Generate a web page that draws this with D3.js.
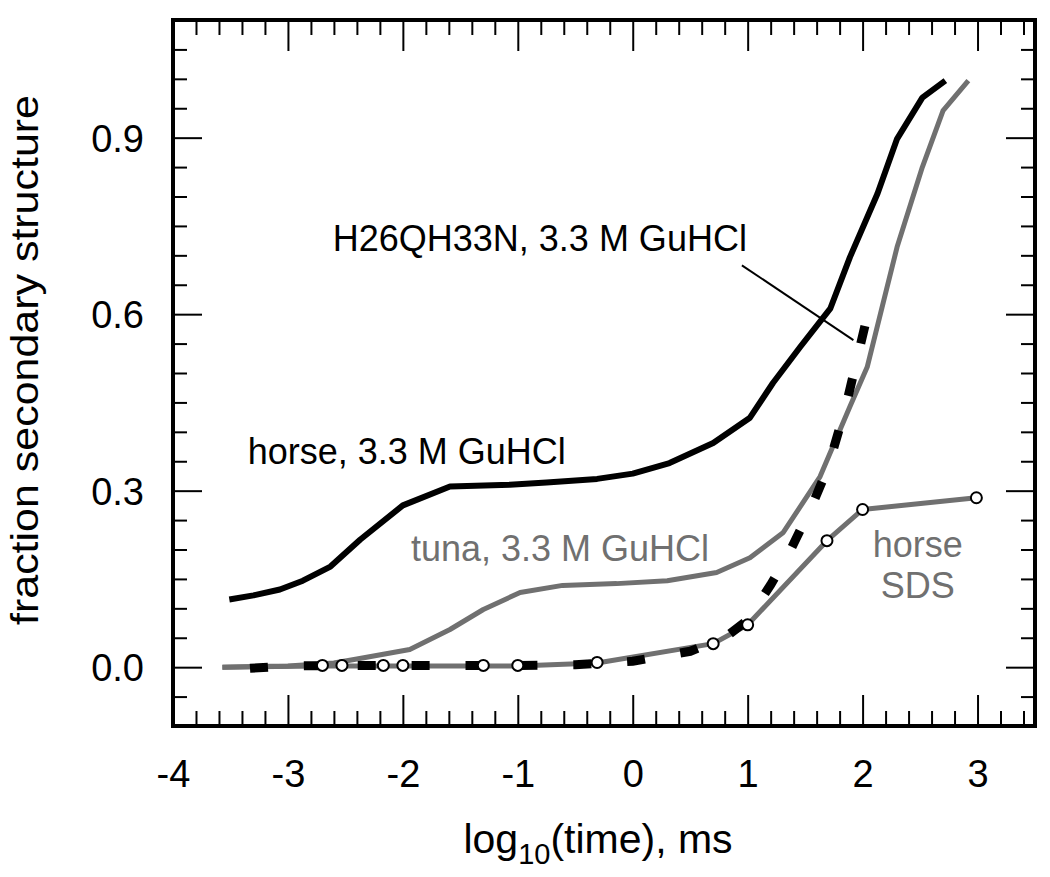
<!DOCTYPE html>
<html><head><meta charset="utf-8">
<script src="https://cdn.jsdelivr.net/npm/d3@7"></script>
<style>
body{margin:0;background:#fff}
svg{display:block}
text{font-family:"Liberation Sans",Arial,Helvetica,sans-serif}
</style>
</head><body>
<svg id="chart" width="1050" height="877"></svg>
<script>
// ---- data ----
const horseGuX = [-3.51,-3.30,-3.07,-2.87,-2.63,-2.37,-2.00,-1.59,-1.07,-0.75,-0.31,0.00,0.32,0.70,1.02,1.22,1.46,1.72,1.89,2.13,2.30,2.52,2.72];
const horseGuY = [0.115,0.122,0.132,0.147,0.171,0.217,0.275,0.307,0.310,0.314,0.320,0.329,0.347,0.381,0.424,0.483,0.545,0.610,0.697,0.805,0.898,0.968,0.997];

const tunaX = [-3.57,-3.0,-2.6,-2.4,-1.94,-1.59,-1.30,-0.98,-0.61,-0.14,0.30,0.73,1.02,1.31,1.63,1.89,2.04,2.18,2.30,2.52,2.70,2.92];
const tunaY = [0.000,0.002,0.007,0.014,0.030,0.064,0.098,0.127,0.139,0.142,0.147,0.161,0.186,0.229,0.324,0.443,0.510,0.620,0.714,0.850,0.946,0.997];

const sdsLineX = [-3.57,-2.70,-2.53,-2.17,-2.00,-1.30,-1.00,-0.31,0.70,1.00,1.69,2.00,2.99];
const sdsLineY = [0.000,0.002,0.002,0.002,0.002,0.002,0.002,0.007,0.040,0.072,0.215,0.268,0.288];
const sdsPointX = [-2.70,-2.53,-2.17,-2.00,-1.30,-1.00,-0.31,0.70,1.00,1.69,2.00,2.99];
const sdsPointY = [0.003,0.003,0.003,0.003,0.003,0.003,0.008,0.040,0.072,0.215,0.268,0.288];

const mutX = [-3.33,-3.0,-2.5,-2.0,-1.0,-0.5,0.0,0.5,0.8,1.0,1.2,1.35,1.55,1.70,1.85,2.02];
const mutY = [-0.002,0.002,0.003,0.003,0.003,0.004,0.010,0.027,0.050,0.080,0.140,0.190,0.270,0.340,0.440,0.580];

const xMajorTicks = [-4,-3,-2,-1,0,1,2,3];
const xTickLabels = ["-4","-3","-2","-1","0","1","2","3"];
const yMajorTicks = [0.0,0.3,0.6,0.9];
const yTickLabels = ["0.0","0.3","0.6","0.9"];
const xMinorTicks = d3.range(-38,35,2).map(v=>v/10).filter(v=>Math.abs(v-Math.round(v))>1e-6);
const yMinorTicks = d3.range(-1,22,1).map(v=>v*0.05).filter(v=>Math.abs(v/0.3-Math.round(v/0.3))>1e-6);

const annotFrom = [0.95,0.683];
const annotTo = [1.92,0.556];

// ---- layout ----
const svg = d3.select("#chart");
const L=173, R=1035, T=20, B=726;
const x = d3.scaleLinear().domain([-4,3.5]).range([L,R]);
const y = d3.scaleLinear().domain([-0.1,1.1]).range([B,T]);
const zip = (xs,ys)=>xs.map((v,i)=>[v,ys[i]]);
const line = d3.line().x(d=>x(d[0])).y(d=>y(d[1]));

const grey = "#707070";

// axes (ticks on all sides, pointing inward)
function styleAxis(g){ g.select(".domain").remove(); g.selectAll("line").attr("stroke","#000").attr("stroke-width",2); }
const fmtX = (d)=>xTickLabels[xMajorTicks.indexOf(d)];
const fmtY = (d)=>yTickLabels[yMajorTicks.indexOf(d)];

svg.append("g").attr("transform",`translate(0,${B})`)
  .call(d3.axisBottom(x).tickValues(xMajorTicks).tickSize(-31).tickPadding(0).tickFormat(fmtX))
  .call(styleAxis)
  .call(g=>g.selectAll("text").attr("y",61).attr("dy",0).attr("font-size",38).attr("fill","#000"));
svg.append("g").attr("transform",`translate(0,${B})`)
  .call(d3.axisBottom(x).tickValues(xMinorTicks).tickSize(-15).tickFormat(""))
  .call(styleAxis);
svg.append("g").attr("transform",`translate(0,${T})`)
  .call(d3.axisTop(x).tickValues(xMajorTicks).tickSize(-31).tickFormat(""))
  .call(styleAxis);
svg.append("g").attr("transform",`translate(0,${T})`)
  .call(d3.axisTop(x).tickValues(xMinorTicks).tickSize(-15).tickFormat(""))
  .call(styleAxis);
svg.append("g").attr("transform",`translate(${L},0)`)
  .call(d3.axisLeft(y).tickValues(yMajorTicks).tickSize(-29).tickPadding(0).tickFormat(fmtY))
  .call(styleAxis)
  .call(g=>g.selectAll("text").attr("x",-29).attr("dy","0.36em").attr("font-size",38).attr("fill","#000"));
svg.append("g").attr("transform",`translate(${L},0)`)
  .call(d3.axisLeft(y).tickValues(yMinorTicks).tickSize(-14).tickFormat(""))
  .call(styleAxis);
svg.append("g").attr("transform",`translate(${R},0)`)
  .call(d3.axisRight(y).tickValues(yMajorTicks).tickSize(-29).tickFormat(""))
  .call(styleAxis);
svg.append("g").attr("transform",`translate(${R},0)`)
  .call(d3.axisRight(y).tickValues(yMinorTicks).tickSize(-14).tickFormat(""))
  .call(styleAxis);

// series
svg.append("path").datum(zip(tunaX,tunaY)).attr("d",line)
  .attr("fill","none").attr("stroke",grey).attr("stroke-width",5).attr("stroke-linejoin","round");
svg.append("path").datum(zip(sdsLineX,sdsLineY)).attr("d",line)
  .attr("fill","none").attr("stroke",grey).attr("stroke-width",5).attr("stroke-linejoin","round");
svg.append("path").datum(zip(horseGuX,horseGuY)).attr("d",line)
  .attr("fill","none").attr("stroke","#000").attr("stroke-width",6).attr("stroke-linejoin","round");
const mutPath = svg.append("path").datum(zip(mutX,mutY)).attr("d",line)
  .attr("fill","none").attr("stroke","#000").attr("stroke-width",9);
// fit the dash period so the path starts and ends on a full dash
const dashLen = 18;
const mutLen = mutPath.node().getTotalLength();
const nPeriods = Math.round((mutLen - dashLen) / 55);
const period = (mutLen - dashLen) / nPeriods;
mutPath.attr("stroke-dasharray", `${dashLen} ${period - dashLen}`);
svg.append("g").selectAll("circle").data(zip(sdsPointX,sdsPointY)).join("circle")
  .attr("cx",d=>x(d[0])).attr("cy",d=>y(d[1])).attr("r",5.5)
  .attr("fill","#fff").attr("stroke","#000").attr("stroke-width",2);

// annotation
svg.append("line")
  .attr("x1",x(annotFrom[0])).attr("y1",y(annotFrom[1]))
  .attr("x2",x(annotTo[0])).attr("y2",y(annotTo[1]))
  .attr("stroke","#000").attr("stroke-width",2);

// labels
const lab = (txt,xv,yv,color,anchor)=>svg.append("text").attr("x",x(xv)).attr("y",y(yv))
  .attr("font-size",36).attr("fill",color).attr("text-anchor",anchor||"start").text(txt);
lab("H26QH33N, 3.3 M GuHCl",-2.61,0.708,"#000");
lab("horse, 3.3 M GuHCl",-3.35,0.345,"#000");
lab("tuna, 3.3 M GuHCl",-1.93,0.18,grey);
lab("horse",2.48,0.188,grey,"middle");
lab("SDS",2.48,0.118,grey,"middle");

// axis titles
const xt = svg.append("text").attr("x",598).attr("y",853).attr("text-anchor","middle")
  .attr("font-size",41).attr("fill","#000");
xt.append("tspan").text("log");
xt.append("tspan").attr("font-size",29).attr("dy",11).text("10");
xt.append("tspan").attr("dy",-11).text("(time), ms");

svg.append("text").attr("transform",`translate(38,360) rotate(-90)`)
  .attr("text-anchor","middle").attr("font-size",39).attr("fill","#000")
  .attr("textLength",530).attr("lengthAdjust","spacingAndGlyphs")
  .text("fraction secondary structure");

// frame
svg.append("rect").attr("x",L).attr("y",T).attr("width",R-L).attr("height",B-T)
  .attr("fill","none").attr("stroke","#000").attr("stroke-width",4);
</script>
</body></html>
